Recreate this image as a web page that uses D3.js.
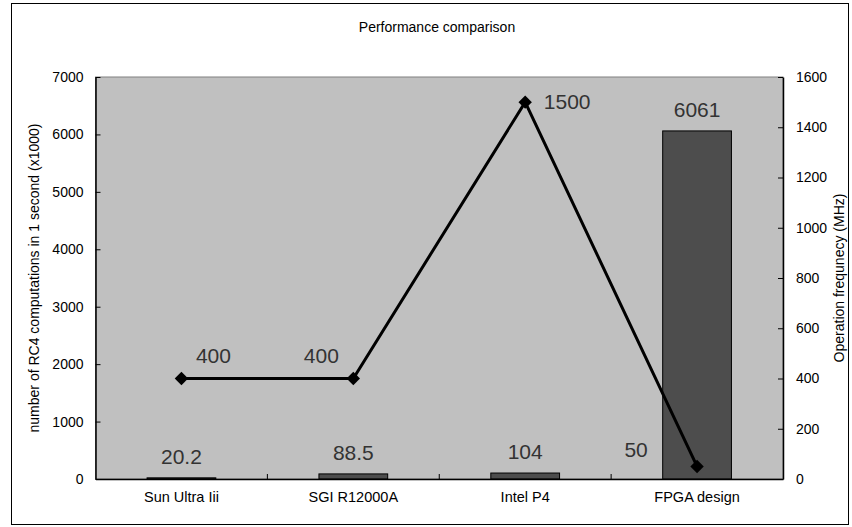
<!DOCTYPE html>
<html><head><meta charset="utf-8">
<script src="https://cdn.jsdelivr.net/npm/d3@7"></script>
<style>body{margin:0;background:#fff;font-family:"Liberation Sans",Arial,sans-serif;}</style>
</head><body>
<svg id="c" width="852" height="527"></svg>
<script>
const categories = ["Sun Ultra Iii", "SGI R12000A", "Intel P4", "FPGA design"];
const rc4Values = [20.2, 88.5, 104, 6061];
const freqValues = [400, 400, 1500, 50];
const leftTicks = [0,1000,2000,3000,4000,5000,6000,7000];
const rightTicks = [0,200,400,600,800,1000,1200,1400,1600];
// label placement offsets (relative to the marker) for the line labels
const freqLabelDx = [32, -32, 42, -61];
const freqLabelDy = [-16, -16, 7, -9];

const svg = d3.select("#c");
const W = 852, H = 527;
const m = {left:95.5, right:783, top:77, bottom:479};
const FF = "Liberation Sans, Arial, sans-serif";

svg.append("rect").attr("x",11.5).attr("y",3.5).attr("width",837).attr("height",521)
  .attr("fill","#fff").attr("stroke","#000").attr("stroke-width",1);

const x = d3.scaleBand().domain(categories).range([m.left, m.right]).paddingInner(0).paddingOuter(0);
const yL = d3.scaleLinear().domain([0,7000]).range([m.bottom, m.top]);
const yR = d3.scaleLinear().domain([0,1600]).range([m.bottom, m.top]);

svg.append("rect").attr("x",m.left).attr("y",m.top).attr("width",m.right-m.left).attr("height",m.bottom-m.top)
  .attr("fill","#c0c0c0").attr("stroke","#808080").attr("stroke-width",1);

svg.append("text").attr("x",437).attr("y",32).attr("text-anchor","middle")
  .attr("font-size",14).text("Performance comparison");

// bars
const bw = x.bandwidth()*0.4;
svg.selectAll("rect.bar").data(rc4Values).join("rect").attr("class","bar")
  .attr("x",(d,i)=>x(categories[i])+x.bandwidth()/2-bw/2)
  .attr("y",d=>yL(d)).attr("width",bw).attr("height",d=>yL(0)-yL(d))
  .attr("fill","#4d4d4d").attr("stroke","#000").attr("stroke-width",1);

// axes
const fmt = d3.format("d");
const axL = d3.axisLeft(yL).tickValues(leftTicks).tickFormat(fmt).tickSizeInner(-5).tickSizeOuter(0).tickPadding(12);
const gL = svg.append("g").attr("transform",`translate(${m.left},0)`).call(axL);
const axR = d3.axisRight(yR).tickValues(rightTicks).tickFormat(fmt).tickSizeInner(-5).tickSizeOuter(0).tickPadding(13);
const gR = svg.append("g").attr("transform",`translate(${m.right},0)`).call(axR);
const axB = d3.axisBottom(x).tickSize(0).tickPadding(13);
const gB = svg.append("g").attr("transform",`translate(0,${m.bottom})`).call(axB);
[gL,gR].forEach(g=>g.selectAll("text").attr("font-size",14));
gB.selectAll("text").attr("font-size",14.5);
[gL,gR,gB].forEach(g=>{
  g.selectAll("text").attr("font-family",FF).attr("fill","#000");
  g.select(".domain").attr("stroke","#000").attr("stroke-width",1.5);
  g.selectAll(".tick line").attr("stroke","#000");
});
// category separator ticks
svg.selectAll("line.sep").data(categories.slice(1)).join("line").attr("class","sep")
  .attr("x1",d=>x(d)).attr("x2",d=>x(d)).attr("y1",m.bottom).attr("y2",m.bottom-5).attr("stroke","#000");

// axis titles
svg.append("text").attr("transform",`translate(39,${(m.top+m.bottom)/2}) rotate(-90)`)
  .attr("text-anchor","middle").attr("font-size",14).text("number of RC4 computations in 1 second (x1000)");
svg.append("text").attr("transform",`translate(844,${(m.top+m.bottom)/2}) rotate(-90)`)
  .attr("text-anchor","middle").attr("font-size",14).text("Operation frequnecy (MHz)");

// line
const cx = (d,i)=>x(categories[i])+x.bandwidth()/2;
const line = d3.line().x((d,i)=>cx(d,i)).y(d=>yR(d));
svg.append("path").datum(freqValues).attr("d",line).attr("fill","none").attr("stroke","#000").attr("stroke-width",3);
svg.selectAll("path.mk").data(freqValues).join("path").attr("class","mk")
  .attr("d",d3.symbol().type(d3.symbolSquare).size(90))
  .attr("transform",(d,i)=>`translate(${cx(d,i)},${yR(d)}) rotate(45)`)
  .attr("fill","#000");

// bar labels
svg.selectAll("text.bl").data(rc4Values).join("text").attr("class","bl")
  .attr("x",(d,i)=>cx(d,i)).attr("y",d=>yL(d)-14).attr("text-anchor","middle")
  .attr("font-size",21).attr("fill","#333").text(d=>d);
// line labels
svg.selectAll("text.ll").data(freqValues).join("text").attr("class","ll")
  .attr("x",(d,i)=>cx(d,i)+freqLabelDx[i]).attr("y",(d,i)=>yR(d)+freqLabelDy[i]).attr("text-anchor","middle")
  .attr("font-size",21).attr("fill","#333").text(d=>d);
</script>
</body></html>
